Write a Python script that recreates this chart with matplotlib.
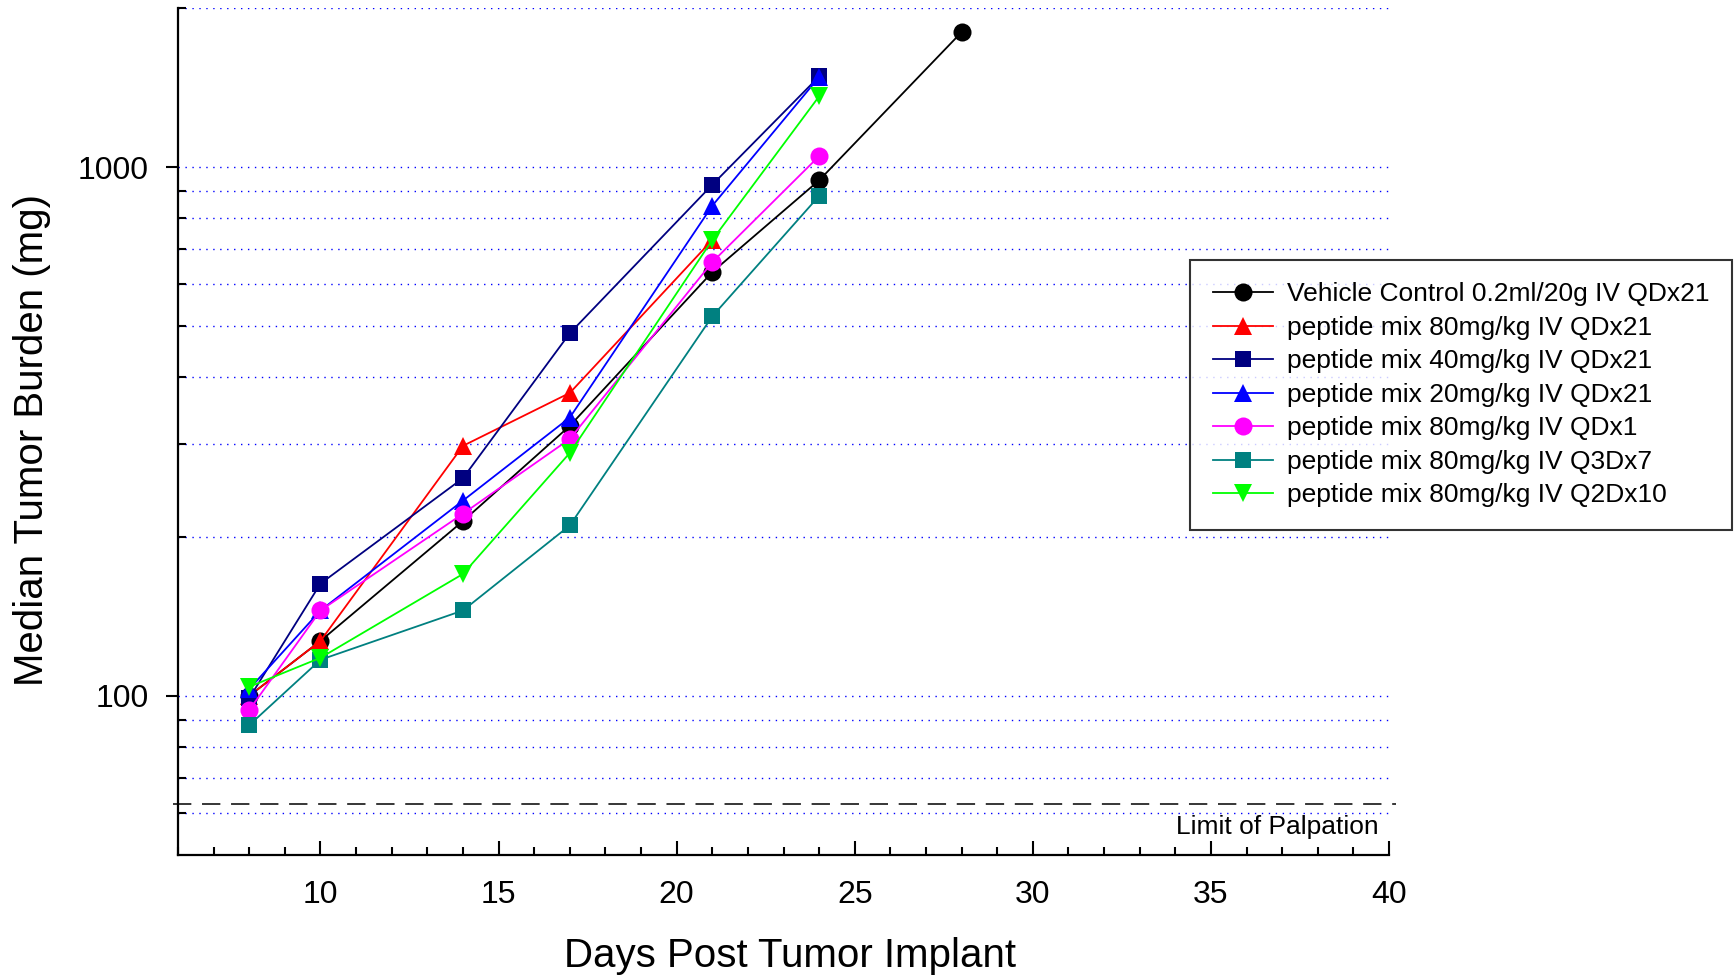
import matplotlib
matplotlib.use("Agg")
import matplotlib.pyplot as plt
from matplotlib.ticker import FixedLocator, NullFormatter, MultipleLocator

plt.rcParams['font.family'] = ['Liberation Sans', 'DejaVu Sans']

# data
days = [8, 10, 14, 17, 21, 24, 28]
vehicle = [100, 127, 214, 324, 633, 944, 1800]
pep80_qd21 = [100, 127, 297, 374, 728]
pep40_qd21 = [99, 163, 258, 485, 926, 1484]
pep20_qd21 = [103, 145, 234, 336, 845, 1480]
pep80_qd1 = [94, 145, 221, 306, 661, 1049]
pep80_q3d7 = [88, 117, 145, 210, 522, 882]
pep80_q2d10 = [104, 118, 170, 288, 728, 1361]

labels = ["Vehicle Control 0.2ml/20g IV QDx21",
          "peptide mix 80mg/kg IV QDx21",
          "peptide mix 40mg/kg IV QDx21",
          "peptide mix 20mg/kg IV QDx21",
          "peptide mix 80mg/kg IV QDx1",
          "peptide mix 80mg/kg IV Q3Dx7",
          "peptide mix 80mg/kg IV Q2Dx10"]
series = [vehicle, pep80_qd21, pep40_qd21, pep20_qd21, pep80_qd1, pep80_q3d7, pep80_q2d10]
colors = ["black", "#FF0000", "#000080", "#0000FF", "#FF00FF", "#008080", "#00FF00"]
markers = ["o", "^", "s", "^", "o", "s", "v"]
msizes = [13, 13.5, 11.5, 13.5, 13, 11.5, 13.5]

limit_palpation = 62.5
grid_vals = [60, 70, 80, 90, 100, 200, 300, 400, 500, 600, 700, 800, 900, 1000, 2000]

fig = plt.figure(figsize=(17.35, 9.77), dpi=100)
ax = fig.add_axes([0.1026, 0.1249, 0.698, 0.867])

for vals, lab, c, m, ms in zip(series, labels, colors, markers, msizes):
    ax.plot(days[:len(vals)], vals, color=c, lw=1.3, marker=m, markersize=ms,
            markeredgewidth=0, label=lab, zorder=3)

ax.set_yscale('log')
ax.set_ylim(50, 2000)
ax.set_xlim(6, 40)

for g in grid_vals:
    ax.axhline(g, color='#0000FF', lw=1.0, linestyle=(0, (1, 4)), zorder=1)

ax.axhline(limit_palpation, xmin=-0.004, xmax=1.006, color='black', lw=1.1,
           dashes=[12, 7], clip_on=False, zorder=2)
ax.text(0.991, 56.5, "Limit of Palpation", transform=ax.get_yaxis_transform(),
        ha='right', va='center', fontsize=19)

ax.yaxis.set_major_locator(FixedLocator([100, 1000]))
ax.yaxis.set_minor_locator(FixedLocator([60, 70, 80, 90, 200, 300, 400, 500,
                                         600, 700, 800, 900, 2000]))
ax.yaxis.set_minor_formatter(NullFormatter())
ax.set_yticklabels(["100", "1000"])
ax.xaxis.set_major_locator(FixedLocator([10, 15, 20, 25, 30, 35, 40]))
ax.xaxis.set_minor_locator(MultipleLocator(1))

ax.tick_params(axis='y', which='major', direction='out', length=9, width=1.5,
               labelsize=23, pad=12)
ax.tick_params(axis='y', which='minor', direction='in', length=6, width=1.5)
ax.tick_params(axis='x', which='major', direction='in', length=10, width=1.5,
               labelsize=23, pad=18)
ax.tick_params(axis='x', which='minor', direction='in', length=6, width=1.5)

for s in ['top', 'right']:
    ax.spines[s].set_visible(False)
for s in ['left', 'bottom']:
    ax.spines[s].set_linewidth(1.6)

ax.set_xlabel("Days Post Tumor Implant", fontsize=29)
ax.set_ylabel("Median Tumor Burden (mg)", fontsize=29)
ax.xaxis.set_label_coords(0.505, -0.097)
ax.yaxis.set_label_coords(-0.105, 0.49)

leg = fig.legend(loc='upper right', bbox_to_anchor=(0.998, 0.734),
                 bbox_transform=fig.transFigure, fontsize=19, frameon=True,
                 fancybox=False, edgecolor='black', handlelength=2.3,
                 handletextpad=0.5, labelspacing=0.36, borderpad=0.85,
                 borderaxespad=0)
leg.get_frame().set_linewidth(1.5)

fig.savefig("out.png", dpi=100)
